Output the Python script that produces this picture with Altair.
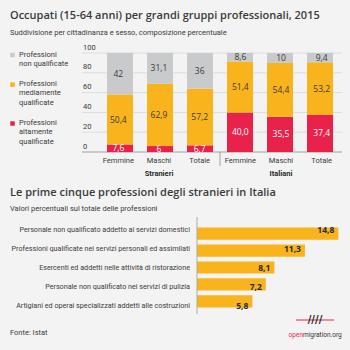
import altair as alt
import pandas as pd

# ---------------- data ----------------
groups = ["Stranieri", "Stranieri", "Stranieri", "Italiani", "Italiani", "Italiani"]
sexes = ["Femmine", "Maschi", "Totale", "Femmine", "Maschi", "Totale"]
alta = [7.6, 6.0, 6.7, 40.0, 35.5, 37.4]
media = [50.4, 62.9, 57.2, 51.4, 54.4, 53.2]
nonq = [42.0, 31.1, 36.0, 8.6, 10.0, 9.4]
alta_lbl = ["7,6", "6", "6,7", "40,0", "35,5", "37,4"]
media_lbl = ["50,4", "62,9", "57,2", "51,4", "54,4", "53,2"]
nonq_lbl = ["42", "31,1", "36", "8,6", "10", "9,4"]
y_ticks = [0, 20, 40, 60, 80, 100]

series = ["Professioni altamente qualificate",
          "Professioni mediamente qualificate",
          "Professioni non qualificate"]
legend_lines = [["Professioni", "altamente", "qualificate"],
                ["Professioni", "mediamente", "qualificate"],
                ["Professioni", "non qualificate"]]
colors = ["#e8224b", "#f9b41d", "#c8cacb"]
text_colors = ["#ffffff", "#3a3a3a", "#3a3a3a"]

professions = ["Personale non qualificato addetto ai servizi domestici",
               "Professioni qualificate nei servizi personali ed assimilati",
               "Esercenti ed addetti nelle attività di ristorazione",
               "Personale non qualificato nei servizi di pulizia",
               "Artigiani ed operai specializzati addetti alle costruzioni"]
prof_vals = [14.8, 11.3, 8.1, 7.2, 5.8]
prof_lbl = ["14,8", "11,3", "8,1", "7,2", "5,8"]

title1 = "Occupati (15-64 anni) per grandi gruppi professionali, 2015"
subtitle1 = "Suddivisione per cittadinanza e sesso, composizione percentuale"
title2 = "Le prime cinque professioni degli stranieri in Italia"
subtitle2 = "Valori percentuali sul totale delle professioni"
source = "Fonte: Istat"

BG = "#f3f3f3"
TXT = "#3a3a3a"
FONT = "Roboto"
TFONT = "Open Sans"

# ---------------- layout (pixels) ----------------
TOP_X = [98, 342]          # band range of the column chart
TOP_Y = [152, 53]          # 0..100 range
BOT_X = [197, 340.3]       # 0..15 range of the bar chart
BOT_Y = [220, 315]         # band range of bar chart

keys = [g + "|" + s for g, s in zip(groups, sexes)]
rows = []
for i, k in enumerate(keys):
    for j, (vals, lbls) in enumerate([(alta, alta_lbl), (media, media_lbl), (nonq, nonq_lbl)]):
        rows.append({"key": k, "group": groups[i], "sex": sexes[i], "serie": series[j],
                     "ord": j, "val": vals[i], "lbl": lbls[i], "tcol": text_colors[j]})
df = pd.DataFrame(rows)

xs_top = alt.Scale(domain=keys, range=TOP_X, paddingInner=0, paddingOuter=0.05)
ys_top = alt.Scale(domain=[0, 100], range=TOP_Y, nice=False, zero=False)
col_scale = alt.Scale(domain=series, range=colors)


def txt(s, x, y, **kw):
    return alt.Chart(pd.DataFrame({"t": [s]})).mark_text(**kw).encode(
        x=alt.value(x), y=alt.value(y), text="t:N")


base = alt.Chart(df).transform_stack(
    stack="val", groupby=["key"], sort=[alt.SortField("ord")], as_=["y0", "y1"]
).transform_calculate(mid="(datum.y0 + datum.y1) / 2")

# gridlines + tick labels
tick_df = pd.DataFrame({"t": y_ticks})
grid = alt.Chart(tick_df).transform_filter("datum.t > 0").mark_rule(
    color="#dcdcdc", strokeWidth=1).encode(
    y=alt.Y("t:Q", scale=ys_top, axis=None), x=alt.value(82), x2=alt.value(342))
zero = alt.Chart(tick_df).transform_filter("datum.t == 0").mark_rule(
    color="#a0a0a0", strokeWidth=1).encode(
    y=alt.Y("t:Q", scale=ys_top, axis=None), x=alt.value(82), x2=alt.value(342))
ylab = alt.Chart(tick_df).mark_text(font=FONT, fontSize=7.5, align="left", baseline="bottom",
                                    dy=-1.5, color=TXT).encode(
    y=alt.Y("t:Q", scale=ys_top, axis=None), x=alt.value(83), text="t:Q")

bars = base.mark_bar(size=26).encode(
    x=alt.X("key:N", scale=xs_top, axis=None),
    y=alt.Y("y0:Q", scale=ys_top, axis=None),
    y2="y1:Q",
    color=alt.Color("serie:N", scale=col_scale, legend=None),
)
vals_txt = base.mark_text(font=TFONT, fontSize=8.5).encode(
    x=alt.X("key:N", scale=xs_top, axis=None),
    y=alt.Y("mid:Q", scale=ys_top, axis=None),
    text="lbl:N",
    color=alt.Color("tcol:N", scale=None),
)
xlab = alt.Chart(pd.DataFrame({"key": keys, "sex": sexes})).mark_text(
    font=FONT, fontSize=7.5, color=TXT).encode(
    x=alt.X("key:N", scale=xs_top, axis=None), y=alt.value(161), text="sex:N")
sep = alt.Chart(pd.DataFrame({"z": [0]})).mark_rule(color="#a0a0a0", strokeWidth=1).encode(
    x=alt.value(220), y=alt.value(152), y2=alt.value(166))
grp_df = pd.DataFrame({"key": ["Stranieri|Maschi", "Italiani|Maschi"],
                       "group": ["Stranieri", "Italiani"]})
grp_txt = alt.Chart(grp_df).mark_text(font=FONT, fontSize=7.5, fontWeight="bold",
                                      color="#2a2a2a").encode(
    x=alt.X("key:N", scale=xs_top, axis=None), y=alt.value(174), text="group:N")

# legend (manual, top-left)
leg_rows = []
ycur = 55
for j in [2, 1, 0]:
    leg_rows.append({"serie": series[j], "lines": legend_lines[j], "py": ycur})
    ycur += len(legend_lines[j]) * 9.3 + 11
leg_df = pd.DataFrame(leg_rows)
leg_sq = alt.Chart(leg_df).mark_square(size=20, opacity=1).encode(
    x=alt.value(12.5), y=alt.Y("py:Q", scale=None),
    color=alt.Color("serie:N", scale=col_scale, legend=None))
leg_tx = alt.Chart(leg_df).mark_text(font=FONT, fontSize=7.5, align="left", baseline="top",
                                     lineHeight=9.3, color=TXT, dy=-4.5).encode(
    x=alt.value(19), y=alt.Y("py:Q", scale=None), text="lines")

# ---------------- bottom chart ----------------
pdf = pd.DataFrame({"prof": professions, "val": prof_vals, "lbl": prof_lbl})
xs_bot = alt.Scale(domain=[0, 15], range=BOT_X, nice=False, zero=False)
ys_bot = alt.Scale(domain=professions, range=BOT_Y, paddingInner=0.28, paddingOuter=0.45)

pbars = alt.Chart(pdf).mark_bar(color="#f9b41d").encode(
    x=alt.X("val:Q", scale=xs_bot, axis=None), x2=alt.datum(0),
    y=alt.Y("prof:N", scale=ys_bot, axis=None))
ptxt = alt.Chart(pdf).mark_text(font=TFONT, fontSize=8.5, fontWeight="bold", align="right",
                                dx=-4, color="#2a2a2a").encode(
    x=alt.X("val:Q", scale=xs_bot, axis=None),
    y=alt.Y("prof:N", scale=ys_bot, axis=None), text="lbl:N")
plab = alt.Chart(pdf).mark_text(font=FONT, fontSize=7.2, align="right", color=TXT).encode(
    x=alt.value(190), y=alt.Y("prof:N", scale=ys_bot, axis=None), text="prof:N")
paxis = alt.Chart(pd.DataFrame({"z": [0]})).mark_rule(color="#aaaaaa", strokeWidth=1).encode(
    x=alt.X("z:Q", scale=xs_bot, axis=None), y=alt.value(217), y2=alt.value(314))

# ---------------- titles, source, logo ----------------
t1 = txt(title1, 10, 16, font=TFONT, fontSize=11, fontWeight=600, align="left",
         baseline="middle", color=TXT)
s1 = txt(subtitle1, 10, 33, font=FONT, fontSize=7.5, align="left", baseline="middle", color=TXT)
t2 = txt(title2, 10, 193, font=TFONT, fontSize=11, fontWeight=600, align="left",
         baseline="middle", color=TXT)
s2 = txt(subtitle2, 10, 209, font=FONT, fontSize=7.5, align="left", baseline="middle", color=TXT)
foot = txt(source, 10, 333, font=FONT, fontSize=7.5, align="left", baseline="middle", color=TXT)
logo1 = txt("open", 303, 335, font=FONT, fontSize=6.5, align="right", baseline="middle",
            color="#e8224b")
logo2 = txt("migration.org", 303, 335, font=FONT, fontSize=6.5, align="left",
            baseline="middle", color="#333333")
logo_line = alt.Chart(pd.DataFrame({"z": [0]})).mark_rule(color="#e8224b", strokeWidth=1).encode(
    x=alt.value(296), x2=alt.value(334), y=alt.value(320))
logo_sl = txt("////", 315, 320, font="DejaVu Sans", fontSize=10, fontWeight="bold",
              align="center", baseline="middle", color="#222222")

chart = alt.layer(
    grid, zero, ylab, bars, vals_txt, xlab, sep, grp_txt, leg_sq, leg_tx,
    pbars, paxis, ptxt, plab,
    t1, s1, t2, s2, foot, logo_line, logo_sl, logo1, logo2,
).resolve_scale(x="independent", y="independent", color="independent").properties(
    width=350, height=350,
    autosize=alt.AutoSizeParams(type="none"),
    padding=0,
    background=BG,
).configure_view(stroke=None)

chart.save("out.html", embed_options={"renderer": "svg", "actions": False})
